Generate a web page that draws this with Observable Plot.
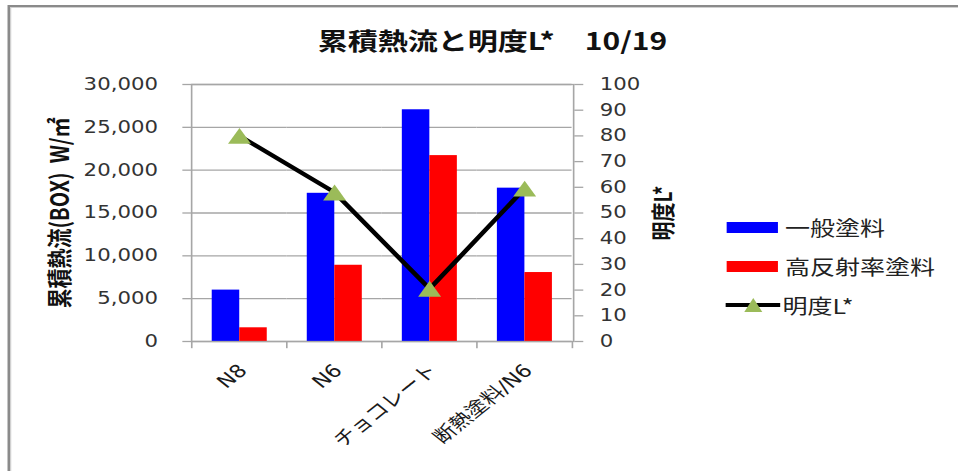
<!DOCTYPE html>
<html>
<head>
<meta charset="utf-8">
<script src="https://cdn.jsdelivr.net/npm/d3@7"></script>
<script src="https://cdn.jsdelivr.net/npm/@observablehq/plot@0.6"></script>
<style>
  html, body { margin: 0; padding: 0; background: #fff; width: 958px; height: 471px; overflow: hidden; }
  #stage { position: relative; width: 766px; height: 471px; transform: scaleX(1.2507); transform-origin: 0 0; }
  #border { position: absolute; left: 6px; top: 5px; width: 1000px; height: 1000px; border: 2px solid #8a8a8a; box-shadow: inset 1px 1px 0 #d0d0d0; }
  .layer { position: absolute; left: 0; top: 0; }
  #title { position: absolute; left: 254px; top: 25px; line-height: 30px; font-family: "Noto Sans CJK JP", sans-serif; font-weight: bold; font-size: 24px; color: #111; white-space: nowrap; }
  .row { position: absolute; left: 581px; height: 30px; display: flex; align-items: center; font-family: "Noto Sans CJK JP", sans-serif; font-size: 20px; color: #222; white-space: nowrap; }
  .sw { width: 41.3px; height: 11px; margin-right: 5.4px; }
</style>
</head>
<body>
<div id="stage">
  <div id="border"></div>
  <div id="bottomLayer" class="layer"></div>
  <div id="topLayer" class="layer"></div>
  <div id="title"></div>
  <div id="legend"></div>
</div>
<script>
// ---- data ----
const categories = ["N8", "N6", "チョコレート", "断熱塗料/N6"];
const seriesNames = ["一般塗料", "高反射率塗料"];
const generalPaint = [6000, 17300, 27050, 17900];
const highReflectPaint = [1600, 8900, 21700, 8050];
const lightness = [80, 58, 20.5, 59.5];
const heatTicks = [0, 5000, 10000, 15000, 20000, 25000, 30000];
const lightTicks = [0, 10, 20, 30, 40, 50, 60, 70, 80, 90, 100];
const lineName = "明度L*";
const titleText = "累積熱流と明度L*　10/19";
const leftLabel = "累積熱流(BOX)  W/㎡";
const rightLabel = "明度L*";
const barColors = ["#0000ff", "#ff0000"];
const markerColor = "#9bbb59";

// ---- layout (compressed space, stage is stretched horizontally) ----
const W = 766, H = 471;
const S = 958 / W;
const ML = 191 / S, MR = W - 573 / S, MT = 84, MB = 130;
const BW = (W - ML - MR) / categories.length;
const gray = "#a6a6a6";

const bars = categories.flatMap((c, i) => [
  {cat: c, series: seriesNames[0], value: generalPaint[i]},
  {cat: c, series: seriesNames[1], value: highReflectPaint[i]}
]);
const ld = categories.map((c, i) => ({cat: c, L: lightness[i]}));

const tri = {
  draw(ctx, size) {
    const r = Math.sqrt(size / Math.PI);
    const hw = 1.35 * r, hh = 1.17 * r;
    ctx.moveTo(0, -hh); ctx.lineTo(hw, hh); ctx.lineTo(-hw, hh); ctx.closePath();
  }
};

const bottomPlot = Plot.plot({
  width: W, height: H, marginLeft: ML, marginRight: MR, marginTop: MT, marginBottom: MB,
  style: {background: "transparent", fontFamily: "DejaVu Sans, Noto Sans CJK JP", overflow: "visible"},
  fx: {domain: categories, padding: 0, axis: null, label: null},
  x: {domain: seriesNames, paddingInner: 0, paddingOuter: 0.725, axis: null},
  y: {domain: [0, 30000]},
  color: {domain: seriesNames, range: barColors},
  marks: [
    Plot.gridY(heatTicks, {stroke: gray, strokeOpacity: 1, strokeWidth: 1.3}),
    Plot.barY(bars, {fx: "cat", x: "series", y: "value", fill: "series"}),
    Plot.axisY(heatTicks, {anchor: "left", tickSize: 7.2, tickPadding: 20, tickFormat: d3.format(","),
      stroke: gray, strokeWidth: 1.3, strokeOpacity: 1, fill: "#333", fontSize: 17, fontFamily: "DejaVu Sans", label: null})
  ]
});
document.getElementById("bottomLayer").append(bottomPlot);

const topPlot = Plot.plot({
  width: W, height: H, marginLeft: ML, marginRight: MR, marginTop: MT, marginBottom: MB,
  style: {background: "transparent", fontFamily: "DejaVu Sans, Noto Sans CJK JP", overflow: "visible"},
  x: {type: "band", domain: categories, padding: 0, axis: null},
  y: {domain: [0, 100], axis: null},
  marks: [
    Plot.frame({stroke: gray, strokeWidth: 1.3}),
    Plot.axisX(categories, {anchor: "bottom", tickSize: 7.2, dx: -BW / 2, fill: "none", stroke: gray, strokeWidth: 1.3, label: null}),
    Plot.axisX([categories[categories.length - 1]], {anchor: "bottom", tickSize: 7.2, dx: BW / 2, fill: "none", stroke: gray, strokeWidth: 1.3, label: null}),
    Plot.axisY(lightTicks, {anchor: "right", tickSize: 7.2, tickPadding: 13.6, tickFormat: d => d,
      stroke: gray, strokeWidth: 1.3, fill: "#333", fontSize: 17, fontFamily: "DejaVu Sans", label: null}),
    Plot.text(categories, {x: d => d, text: d => d, frameAnchor: "bottom", dy: 26, dx: 3, rotate: -45,
      textAnchor: "end", lineAnchor: "middle", fontSize: 18, fill: "#1a1a1a"}),
    Plot.text([leftLabel], {text: d => d, frameAnchor: "left", dx: -104.7, rotate: -90, textAnchor: "middle",
      lineAnchor: "middle", fontSize: 20, fontWeight: "bold", fontFamily: "Noto Sans CJK JP", fill: "#111"}),
    Plot.text([rightLabel], {text: d => d, frameAnchor: "right", dx: 72.8, rotate: -90, textAnchor: "middle",
      lineAnchor: "middle", fontSize: 19, fontWeight: "bold", fontFamily: "Noto Sans CJK JP", fill: "#111"}),
    Plot.line(ld, {x: "cat", y: "L", stroke: "#000", strokeWidth: 4, strokeLinejoin: "round"}),
    Plot.dot(ld, {x: "cat", y: "L", symbol: tri, r: 6.8, fill: markerColor, stroke: "none"})
  ]
});
document.getElementById("topLayer").append(topPlot);

document.getElementById("title").textContent = titleText;

// legend
const legend = document.getElementById("legend");
const rowCenters = [227, 266, 305];
seriesNames.forEach((s, i) => {
  const row = document.createElement("div");
  row.className = "row";
  row.style.top = (rowCenters[i] - 15) + "px";
  const sw = document.createElement("div");
  sw.className = "sw";
  sw.style.background = barColors[i];
  const t = document.createElement("span");
  t.textContent = s;
  row.append(sw, t);
  legend.append(row);
});
{
  const row = document.createElement("div");
  row.className = "row";
  row.style.left = "580px";
  row.style.top = (rowCenters[2] - 15) + "px";
  const svg = d3.create("svg").attr("width", 44).attr("height", 16).style("margin-right", "1.6px");
  svg.append("line").attr("x1", 0).attr("x2", 44).attr("y1", 8).attr("y2", 8).attr("stroke", "#000").attr("stroke-width", 4);
  svg.append("path").attr("d", "M22.3,1L29.5,15L15.1,15Z").attr("fill", markerColor);
  const t = document.createElement("span");
  t.textContent = lineName;
  row.append(svg.node(), t);
  legend.append(row);
}
</script>
</body>
</html>
